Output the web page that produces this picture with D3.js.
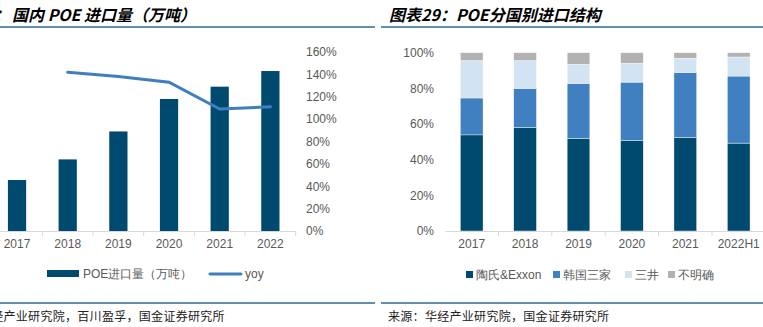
<!DOCTYPE html>
<html>
<head>
<meta charset="utf-8">
<script src="https://cdn.jsdelivr.net/npm/d3@7"></script>
<style>
  body { margin: 0; background: #fff; }
  svg { display: block; font-family: "Liberation Sans", Arial, sans-serif; }
</style>
</head>
<body>
<script>
// left chart: POE imports
var years = ["2017", "2018", "2019", "2020", "2021", "2022"];
var volume = [45.6, 64, 89, 118, 129, 143];
var yoy = [null, 1.42, 1.38, 1.33, 1.09, 1.11];
var yoyTicks = [0, 0.2, 0.4, 0.6, 0.8, 1.0, 1.2, 1.4, 1.6];

// right chart: import structure by source
var periods = ["2017", "2018", "2019", "2020", "2021", "2022H1"];
var seriesNames = ["陶氏&Exxon", "韩国三家", "三井", "不明确"];
var dow = [53.9, 58.0, 52.0, 50.7, 52.6, 49.3];
var korea = [20.7, 22.0, 30.8, 32.8, 36.3, 37.6];
var mitsui = [21.0, 15.6, 10.7, 10.6, 8.0, 10.7];
var unknown = [4.4, 4.4, 6.5, 5.9, 3.1, 2.4];
var shareTicks = [0, 20, 40, 60, 80, 100];

var colors = ["#004a6f", "#4080c0", "#d2e3f3", "#b2b2b2"];
var lineColor = "#3f7fc0";
var axisColor = "#d9d9d9";
var textColor = "#595959";

var svg = d3.select("body").append("svg")
    .attr("width", 763)
    .attr("height", 327);

// titles, rules, sources
var titleFont = "'Noto Sans CJK SC', sans-serif";
svg.append("text")
    .attr("x", 10).attr("y", 21)
    .attr("text-anchor", "end")
    .style("font-family", titleFont).style("font-size", "16px")
    .style("font-weight", "bold").style("font-style", "italic")
    .text("图表28：");
svg.append("text")
    .attr("x", 12).attr("y", 21)
    .style("font-family", titleFont).style("font-size", "16px")
    .style("font-weight", "bold").style("font-style", "italic")
    .text("国内 POE 进口量（万吨）");
svg.append("text")
    .attr("x", 389).attr("y", 21)
    .style("font-family", titleFont).style("font-size", "16px")
    .style("font-weight", "bold").style("font-style", "italic")
    .text("图表29：POE分国别进口结构");

[[0, 375], [381, 763]].forEach(function (r) {
    svg.append("line").attr("x1", r[0]).attr("x2", r[1])
        .attr("y1", 27).attr("y2", 27)
        .style("stroke", "#2f6a94").style("stroke-width", 1.5);
    svg.append("line").attr("x1", r[0]).attr("x2", r[1])
        .attr("y1", 303).attr("y2", 303)
        .style("stroke", "#2f6a94").style("stroke-width", 1.5);
});

svg.append("text")
    .attr("x", -58).attr("y", 321)
    .style("font-family", titleFont).style("font-size", "12px")
    .style("letter-spacing", "0.3px").style("fill", "#222")
    .text("来源：华经产业研究院，百川盈孚，国金证券研究所");
svg.append("text")
    .attr("x", 388).attr("y", 321)
    .style("font-family", titleFont).style("font-size", "12px")
    .style("letter-spacing", "0.3px").style("fill", "#222")
    .text("来源：华经产业研究院，国金证券研究所");

// ---------- left chart ----------
var x1 = d3.scaleBand()
    .domain(years)
    .range([-8.3, 295.7])
    .paddingInner(0.64)
    .paddingOuter(0.32);

var yVol = d3.scaleLinear().domain([0, 160]).range([231, 52]);
var yYoy = d3.scaleLinear().domain([0, 1.6]).range([231, 52]);

var left = svg.append("g");

left.selectAll("rect")
    .data(volume)
    .enter().append("rect")
    .attr("x", function (d, i) { return x1(years[i]); })
    .attr("y", function (d) { return yVol(d); })
    .attr("width", x1.bandwidth())
    .attr("height", function (d) { return yVol(0) - yVol(d); })
    .style("fill", colors[0]);

var xAxisL = left.append("g")
    .attr("transform", "translate(0,231)")
    .call(d3.axisBottom(x1).tickSize(0).tickPadding(8));
xAxisL.select(".domain").style("stroke", axisColor);
xAxisL.selectAll("text").style("font-size", "12px").style("fill", textColor)
    .style("font-family", "'Liberation Sans', Arial, sans-serif");
// category boundary ticks
left.selectAll(".btick")
    .data(years.slice(1).concat(["end"]))
    .enter().append("line")
    .attr("class", "btick")
    .attr("x1", function (d, i) { return x1.range()[0] + x1.step() * (i + 1); })
    .attr("x2", function (d, i) { return x1.range()[0] + x1.step() * (i + 1); })
    .attr("y1", 231).attr("y2", 236)
    .style("stroke", axisColor);

var yAxisR = left.append("g")
    .attr("transform", "translate(302,0)")
    .call(d3.axisRight(yYoy).tickValues(yoyTicks).tickSize(0).tickPadding(4)
        .tickFormat(d3.format(".0%")));
yAxisR.select(".domain").remove();
yAxisR.selectAll("text").style("font-size", "12px").style("fill", textColor)
    .style("font-family", "'Liberation Sans', Arial, sans-serif");

var line = d3.line()
    .defined(function (d) { return d != null; })
    .x(function (d, i) { return x1(years[i]) + x1.bandwidth() / 2; })
    .y(function (d) { return yYoy(d); });

left.append("path")
    .datum(yoy)
    .attr("d", line)
    .style("fill", "none")
    .style("stroke", lineColor)
    .style("stroke-width", 3)
    .style("stroke-linecap", "round");

// left legend
left.append("rect").attr("x", 47).attr("y", 270).attr("width", 32).attr("height", 7)
    .style("fill", colors[0]);
left.append("text").attr("x", 83).attr("y", 278)
    .style("font-size", "12px").style("fill", textColor)
    .text("POE进口量（万吨）");
left.append("line").attr("x1", 210).attr("x2", 241).attr("y1", 274).attr("y2", 274)
    .style("stroke", lineColor).style("stroke-width", 3).style("stroke-linecap", "round");
left.append("text").attr("x", 245).attr("y", 278)
    .style("font-size", "12px").style("fill", textColor)
    .text("yoy");

// ---------- right chart ----------
var x2 = d3.scaleBand()
    .domain(periods)
    .range([445, 765.4])
    .paddingInner(0.575)
    .paddingOuter(0.2875);

var yShare = d3.scaleLinear().domain([0, 100]).range([231, 52.7]);

var rows = periods.map(function (p, i) {
    return { period: p, s0: dow[i], s1: korea[i], s2: mitsui[i], s3: unknown[i] };
});
var stacked = d3.stack().keys(["s0", "s1", "s2", "s3"])(rows);

var right = svg.append("g");

right.selectAll("g.layer")
    .data(stacked)
    .enter().append("g")
    .attr("class", "layer")
    .style("fill", function (d, i) { return colors[i]; })
    .selectAll("rect")
    .data(function (d) { return d; })
    .enter().append("rect")
    .attr("x", function (d) { return x2(d.data.period); })
    .attr("y", function (d) { return yShare(d[1]); })
    .attr("width", x2.bandwidth())
    .attr("height", function (d) { return yShare(d[0]) - yShare(d[1]); })
    .style("stroke", "#ffffff")
    .style("stroke-width", 0.4);

var xAxisR2 = right.append("g")
    .attr("transform", "translate(0,231)")
    .call(d3.axisBottom(x2).tickSize(0).tickPadding(8));
xAxisR2.select(".domain").style("stroke", axisColor);
xAxisR2.selectAll("text").style("font-size", "12px").style("fill", textColor)
    .style("font-family", "'Liberation Sans', Arial, sans-serif");
right.selectAll(".btick")
    .data(periods.slice(1))
    .enter().append("line")
    .attr("class", "btick")
    .attr("x1", function (d, i) { return x2.range()[0] + x2.step() * (i + 1); })
    .attr("x2", function (d, i) { return x2.range()[0] + x2.step() * (i + 1); })
    .attr("y1", 231).attr("y2", 236)
    .style("stroke", axisColor);

var yAxisL2 = right.append("g")
    .attr("transform", "translate(438,0)")
    .call(d3.axisLeft(yShare).tickValues(shareTicks).tickSize(0).tickPadding(4)
        .tickFormat(function (d) { return d + "%"; }));
yAxisL2.select(".domain").remove();
yAxisL2.selectAll("text").style("font-size", "12px").style("fill", textColor)
    .style("font-family", "'Liberation Sans', Arial, sans-serif");

// right legend
var legendX = [466, 553, 625, 668];
var legend = right.selectAll("g.leg")
    .data(seriesNames)
    .enter().append("g")
    .attr("class", "leg")
    .attr("transform", function (d, i) { return "translate(" + legendX[i] + ",271)"; });
legend.append("rect").attr("width", 7).attr("height", 7)
    .style("fill", function (d, i) { return colors[i]; });
legend.append("text").attr("x", 10).attr("y", 8)
    .style("font-size", "12px").style("fill", textColor)
    .text(function (d) { return d; });
</script>
</body>
</html>
